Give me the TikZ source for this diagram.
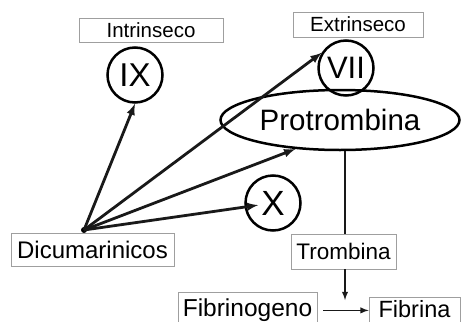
\documentclass[tikz,border=0pt]{standalone}
\usepackage{fontspec}
\setmainfont{Liberation Sans}
\usetikzlibrary{shapes}
\newcommand{\fsz}[1]{\fontsize{#1}{#1}\selectfont}
\tikzstyle{bx}=[draw=gray!75,line width=.8pt,inner sep=0pt]
\tikzstyle{fc}=[circle,draw=black,line width=2.5pt,minimum size=55pt,inner sep=0pt]
\tikzstyle{ar}=[->,>=latex,line width=2.8pt,draw=black!90]
\tikzstyle{ln}=[->,>=latex,line width=1.8pt,draw=black!90]

\begin{document}
\begin{tikzpicture}[x=1pt,y=-1pt]
\useasboundingbox (0,0) rectangle (462,321);
\node[bx,minimum width=144pt,minimum height=24pt] (intr) at (151,30) {\fsz{20.5}Intrinseco};
\node[bx,minimum width=130pt,minimum height=25pt] (extr) at (358,24.5) {\fsz{20.5}Extrinseco};
\node[fc] (ix) at (135,75) {\fsz{33}IX};
\node[fc] (vii) at (346,68) {\fsz{31}VII};
\node[ellipse,draw=black,line width=2.5pt,minimum width=239pt,minimum height=60pt,inner sep=0pt] (pro) at (340,120) {\fsz{29.5}Protrombina};
\node[fc] (x) at (273,203) {\fsz{35}X};
\node[bx,minimum width=163pt,minimum height=33pt] (dic) at (92.5,249.5) {\fsz{24}Dicumarinicos};
\node[bx,minimum width=105pt,minimum height=35pt] (tro) at (343.5,251.5) {\fsz{22.5}Trombina};
\node[bx,anchor=north,minimum width=139pt,inner ysep=2pt,text height=22pt,text depth=10pt] (fbg) at (247.5,292) {\fsz{24.5}Fibrinogeno};
\node[bx,anchor=north,minimum width=91pt,inner ysep=2pt,text height=18pt,text depth=12pt] (fbn) at (414.5,297) {\fsz{23.5}Fibrina};
\node[circle,fill=black,inner sep=0pt,minimum size=6pt] (dot) at (84,230) {};
\coordinate (jn) at (345,300);
% arrows from the dot
\draw[ar] (dot.center) -- (ix.south);
\draw[ar] (dot.center) -- (vii.148);
\draw[ar] (dot.center) -- (pro.213);
\draw[ar,shorten >=15pt] (dot.center) -- (x.center);
% cascade
\draw[line width=2.8pt,draw=black!90] (tro.north -| jn) -- (pro.south -| jn);
\draw[ln] (tro.south -| jn) -- (jn);
\draw[ln,shorten <=6pt] (fbg.east) -- (fbg.east -| fbn.west);
\end{tikzpicture}
\end{document}
